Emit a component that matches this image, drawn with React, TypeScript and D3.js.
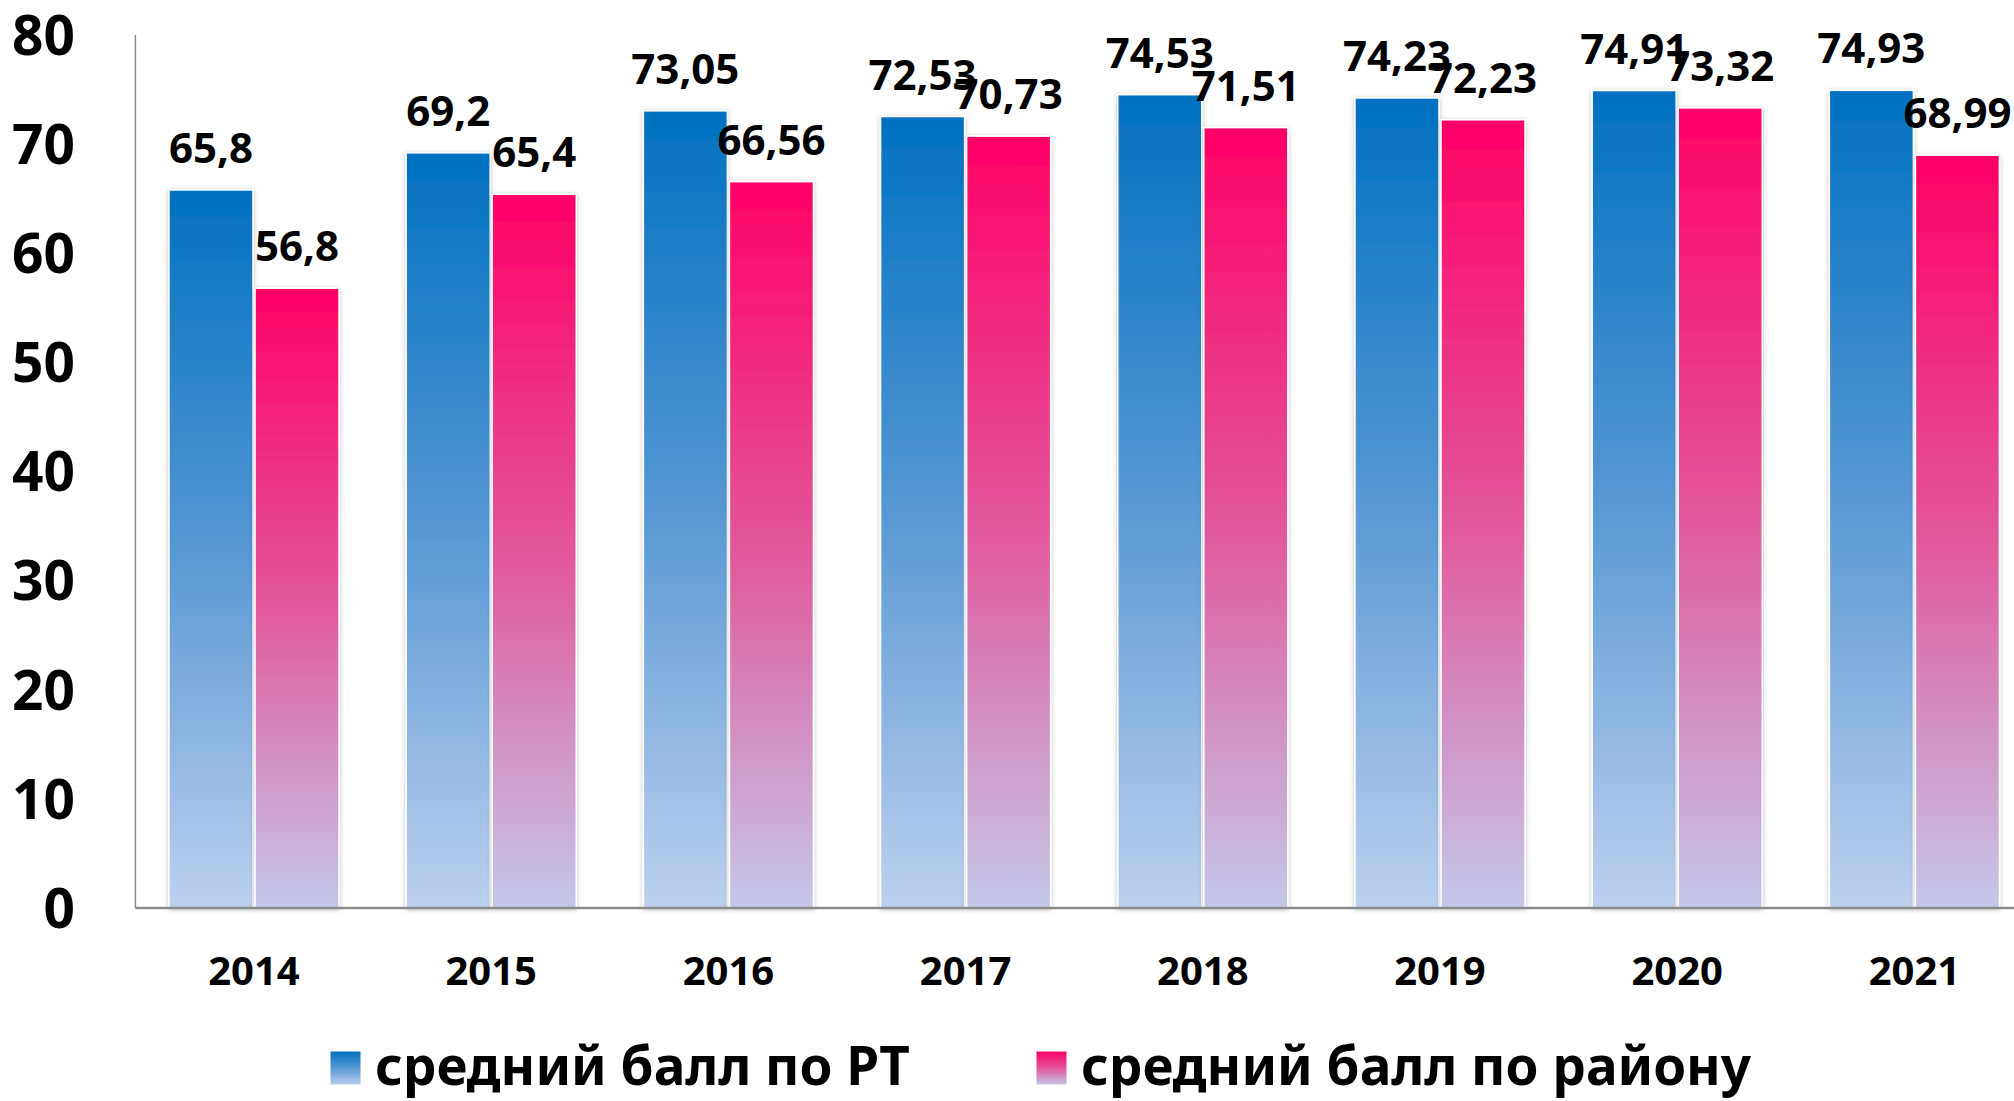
import React from "react";
import * as d3 from "d3";

const years = ["2014", "2015", "2016", "2017", "2018", "2019", "2020", "2021"];
const rtScores = [65.8, 69.2, 73.05, 72.53, 74.53, 74.23, 74.91, 74.93];
const districtScores = [56.8, 65.4, 66.56, 70.73, 71.51, 72.23, 73.32, 68.99];
const seriesNames = ["средний балл по РТ", "средний балл по району"];
const yTicks = [0, 10, 20, 30, 40, 50, 60, 70, 80];

const W = 2014;
const H = 1101;
const FONT = "'Noto Sans', 'Open Sans', sans-serif";
const axisColor = "#8c8c8c";

const left = 135.4;
const step = 237.2;
const baseY = 908;
const topY = 35;

const fmt = (v: number) => String(v).replace(".", ",");

const App = () => {
  const x0 = d3
    .scaleBand<string>()
    .domain(years)
    .range([left, left + step * years.length])
    .paddingInner(0.283)
    .paddingOuter(0.1415);
  const x1 = d3
    .scaleBand<string>()
    .domain(["rt", "district"])
    .range([0, x0.bandwidth()])
    .paddingInner(0.024);
  const y = d3.scaleLinear().domain([0, 80]).range([baseY, topY]);

  const series = [
    { key: "rt", values: rtScores, grad: "url(#gradBlue)" },
    { key: "district", values: districtScores, grad: "url(#gradPink)" },
  ];

  return (
    <svg
      width={W}
      height={H}
      style={{ position: "absolute", left: 0, top: 0, background: "#fff" }}
      fontFamily={FONT}
    >
      <defs>
        <linearGradient id="gradBlue" x1="0" y1="0" x2="0" y2="1">
          <stop offset="0" stopColor="#0070c0" />
          <stop offset="0.5" stopColor="#5798d4" />
          <stop offset="1" stopColor="#bdd0ef" />
        </linearGradient>
        <linearGradient id="gradPink" x1="0" y1="0" x2="0" y2="1">
          <stop offset="0" stopColor="#ff0066" />
          <stop offset="0.5" stopColor="#e25599" />
          <stop offset="1" stopColor="#c4c8e9" />
        </linearGradient>
        <filter id="shadow" x="-20%" y="-5%" width="140%" height="110%">
          <feDropShadow dx="0" dy="1" stdDeviation="2.5" floodColor="#000" floodOpacity="0.25" />
        </filter>
      </defs>

      {/* y axis */}
      <line x1={left} x2={left} y1={topY} y2={baseY} stroke={axisColor} strokeWidth={1.5} />
      {yTicks.map((t) => (
        <text
          key={t}
          x={75}
          y={y(t)}
          dy="0.36em"
          textAnchor="end"
          fontSize={55}
          fontWeight={700}
          fill="#000"
        >
          {t}
        </text>
      ))}

      {/* bars */}
      {years.map((yr, i) => (
        <g key={yr} transform={`translate(${x0(yr)},0)`}>
          {series.map((s) => (
            <rect
              key={s.key}
              x={x1(s.key)}
              y={y(s.values[i])}
              width={x1.bandwidth()}
              height={baseY - y(s.values[i])}
              fill={s.grad}
              stroke="#fff"
              strokeWidth={1.5}
              filter="url(#shadow)"
            />
          ))}
        </g>
      ))}

      {/* baseline */}
      <line x1={left} x2={W} y1={baseY} y2={baseY} stroke={axisColor} strokeWidth={2.5} />

      {/* value labels */}
      {years.map((yr, i) => (
        <g key={"lab" + yr} transform={`translate(${x0(yr)},0)`}>
          {series.map((s) => (
            <text
              key={s.key}
              x={(x1(s.key) ?? 0) + x1.bandwidth() / 2}
              y={y(s.values[i]) - 27}
              textAnchor="middle"
              fontSize={42}
              fontWeight={700}
              fill="#000"
            >
              {fmt(s.values[i])}
            </text>
          ))}
        </g>
      ))}

      {/* category labels */}
      {years.map((yr) => (
        <text
          key={"yr" + yr}
          x={(x0(yr) ?? 0) + x0.bandwidth() / 2}
          y={985}
          textAnchor="middle"
          fontSize={40}
          fontWeight={700}
          fill="#000"
        >
          {yr}
        </text>
      ))}

      {/* legend */}
      {[
        { x: 330, grad: "url(#gradBlue)", name: seriesNames[0] },
        { x: 1036, grad: "url(#gradPink)", name: seriesNames[1] },
      ].map((l) => (
        <g key={l.name}>
          <rect x={l.x} y={1051} width={31} height={34} fill={l.grad} stroke="#fff" strokeWidth={1} />
          <text x={l.x + 45} y={1085} fontSize={53} fontWeight={700} fill="#000">
            {l.name}
          </text>
        </g>
      ))}
    </svg>
  );
};

export default App;
